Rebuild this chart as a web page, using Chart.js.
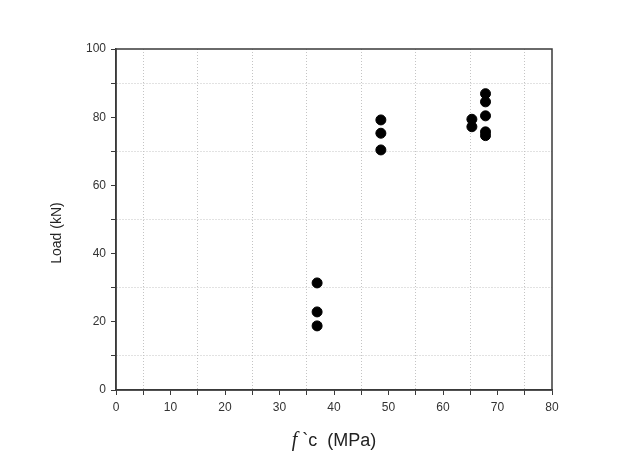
<!DOCTYPE html>
<html>
<head>
<meta charset="utf-8">
<script src="https://cdn.jsdelivr.net/npm/chart.js@4"></script>
<style>
  html, body { margin: 0; padding: 0; background: #fff; }
  #wrap { width: 634px; height: 458px; }
</style>
</head>
<body>
<div id="wrap"><canvas id="chart" width="634" height="458"></canvas></div>
<script>
// f'c (MPa) vs Load (kN)
const fcValues = [36.9, 36.9, 36.9, 48.6, 48.6, 48.6, 65.3, 65.3, 67.8, 67.8, 67.8, 67.8, 67.8];
const loadValues = [31.4, 22.9, 18.8, 79.2, 75.3, 70.4, 79.4, 77.2, 86.9, 84.5, 80.4, 75.7, 74.6];

const xRange = [0, 80];
const yRange = [0, 100];
const xLabelStep = 10;
const yLabelStep = 20;

const AXIS = "#3a3a3a";
const GRID = "#c4c4c4";
const SANS = "'Liberation Sans', Arial, sans-serif";

const points = fcValues.map((x, i) => ({ x: x, y: loadValues[i] }));

// frame + axis titles (x title has an italic f)
const framePlugin = {
  id: "frame",
  afterDraw(chart) {
    const { ctx, chartArea: a } = chart;
    ctx.save();
    ctx.strokeStyle = AXIS;
    ctx.lineWidth = 1.5;
    ctx.strokeRect(a.left, a.top, a.right - a.left, a.bottom - a.top);

    ctx.fillStyle = "#222";
    ctx.textBaseline = "alphabetic";
    ctx.textAlign = "left";
    const cx = (a.left + a.right) / 2;
    const y = 446;
    const f1 = "italic 20px 'Liberation Serif', serif";
    const f2 = "18px " + SANS;
    const part1 = "f";
    const part2 = " `c  (MPa)";
    ctx.font = f1;
    const w1 = ctx.measureText(part1).width;
    ctx.font = f2;
    const w2 = ctx.measureText(part2).width;
    const x0 = cx - (w1 + w2) / 2;
    ctx.font = f1;
    ctx.fillText(part1, x0, y);
    ctx.font = f2;
    ctx.fillText(part2, x0 + w1, y);

    // y title
    ctx.translate(57, 233);
    ctx.rotate(-Math.PI / 2);
    ctx.textAlign = "center";
    ctx.textBaseline = "middle";
    ctx.font = "14px " + SANS;
    ctx.fillText("Load (kN)", 0, 0);
    ctx.restore();
  },
};

new Chart(document.getElementById("chart"), {
  type: "scatter",
  data: {
    datasets: [{
      data: points,
      backgroundColor: "#000",
      borderColor: "#000",
      pointRadius: 5,
      pointHoverRadius: 5,
    }],
  },
  options: {
    responsive: false,
    animation: false,
    layout: { padding: { top: 49, right: 82, left: 0, bottom: 0 } },
    plugins: { legend: { display: false }, tooltip: { enabled: false } },
    scales: {
      x: {
        type: "linear",
        min: xRange[0],
        max: xRange[1],
        afterFit: s => { s.height = 68; },
        ticks: {
          stepSize: 5,
          autoSkip: false,
          maxRotation: 0,
          padding: 5,
          color: "#333",
          font: { family: SANS, size: 12 },
          callback: v => (v % xLabelStep === 0 ? String(v) : ""),
        },
        grid: {
          color: c => (c.tick && c.tick.value % xLabelStep !== 0 ? GRID : "rgba(0,0,0,0)"),
          tickColor: AXIS,
          tickLength: 5,
          lineWidth: 1,
        },
        border: { color: AXIS, width: 1.5, dash: [1, 2] },
      },
      y: {
        type: "linear",
        min: yRange[0],
        max: yRange[1],
        afterFit: s => { s.width = 116; },
        ticks: {
          stepSize: 10,
          autoSkip: false,
          padding: 5,
          color: "#333",
          font: { family: SANS, size: 12 },
          callback: v => (v % yLabelStep === 0 ? String(v) : ""),
        },
        grid: {
          color: c => (c.tick && c.tick.value % yLabelStep !== 0 ? GRID : "rgba(0,0,0,0)"),
          tickColor: AXIS,
          tickLength: 5,
          lineWidth: 1,
        },
        border: { color: AXIS, width: 1.5, dash: [1, 2] },
      },
    },
  },
  plugins: [framePlugin],
});
</script>
</body>
</html>
